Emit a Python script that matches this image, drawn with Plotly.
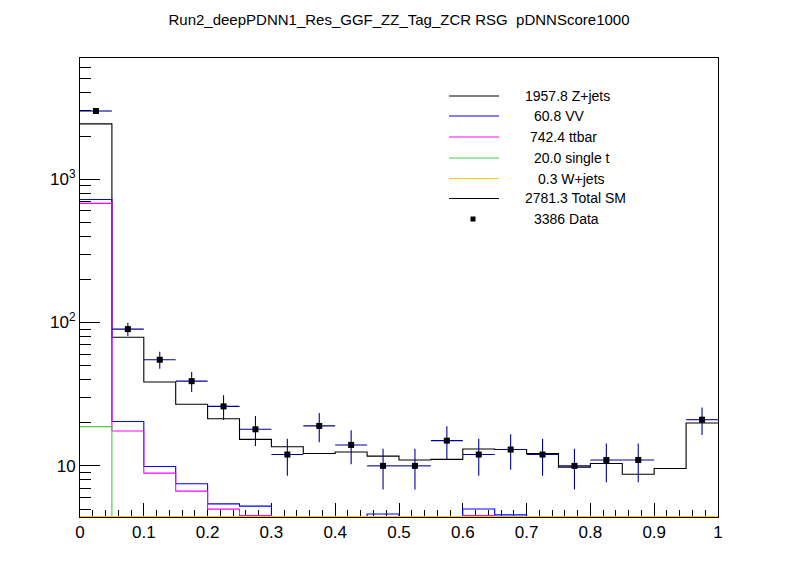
import numpy as np
import plotly.graph_objects as go

# bins of the pDNN score
bin_edges = [round(0.05 * i, 2) for i in range(21)]
bin_centres = [round(0.05 * i + 0.025, 3) for i in range(20)]

# data events per bin (bin 0.90-0.95 is empty)
data_counts = [2988, 90, 55, 39, 26, 18, 12, 19, 14, 10,
               10, 15, 12, 13, 12, 10, 11, 11, 0, 21]

# stacked MC levels as drawn (each line is the top of its layer)
zjets_stack = [2430, 79, 38.5, 26.9, 21.3, 15.3, 13.6, 12.2, 12.5, 11.7,
               11.0, 11.1, 13.1, 13.0, 12.2, 9.8, 10.4, 8.75, 9.6, 19.9]
vv_stack = [722, 20.4, 9.9, 7.5, 5.43, 5.24, 3.2, 2.0, 1.6, 4.62,
            2.5, 2.8, 5.0, 4.55, 2.1, 1.5, 1.3, 1.1, 1.0, 2.2]
ttbar_stack = [678, 17.5, 8.9, 6.67, 4.99, 4.5, 2.5, 1.5, 1.2, 2.4,
               1.8, 2.0, 4.5, 3.0, 1.5, 1.0, 0.9, 0.8, 0.7, 1.5]
singlet_stack = [18.8, 0.9, 0.5, 0.4, 0.3, 0.3, 0.2, 0.2, 0.2, 0.2,
                 0.2, 0.2, 0.2, 0.2, 0.2, 0.2, 0.2, 0.2, 0.2, 0.2]
wjets_stack = [0.1, 0.02, 0.02, 0.02, 0.01, 0.01, 0.01, 0.01, 0.01, 0.01,
               0.01, 0.01, 0.01, 0.01, 0.01, 0.01, 0.01, 0.01, 0.01, 0.01]

legend_labels = ["1957.8 Z+jets", "60.8 VV", "742.4 ttbar", "20.0 single t",
                 "0.3 W+jets", "2781.3 Total SM", "3386 Data"]

title_text = "Run2_deepPDNN1_Res_GGF_ZZ_Tag_ZCR RSG  pDNNScore1000"

Y_MIN, Y_MAX = 4.4, 7000
FLOOR = 4.43  # ROOT draws bins below the frame on the bottom edge
FONT = "Liberation Sans, Arial, Helvetica, sans-serif"

# plot area in pixels: x 80..718, y 58..517
L, R, T, B = 80, 718, 58, 517


def px(x):
    return (x - L) / (R - L)


def py(y):
    return (B - y) / (B - T)


def step_trace(levels, color, name):
    y = [max(v, FLOOR) for v in levels]
    return go.Scatter(x=bin_edges, y=y + [y[-1]], mode="lines", line_shape="hv",
                      line=dict(color=color, width=1.1), name=name, showlegend=False,
                      hoverinfo="skip")


fig = go.Figure()
fig.add_trace(step_trace(zjets_stack, "black", "Z+jets"))
fig.add_trace(step_trace(vv_stack, "#0000ff", "VV"))
fig.add_trace(step_trace(ttbar_stack, "#ff00ff", "ttbar"))
fig.add_trace(step_trace(singlet_stack, "#44cc44", "single t"))
fig.add_trace(step_trace(wjets_stack, "#ffcc00", "W+jets"))

data_y = [v if v > 0 else None for v in data_counts]
fig.add_trace(go.Scatter(
    x=bin_centres, y=data_y, mode="markers", name="Data", showlegend=False,
    marker=dict(symbol="square", size=6, color="black"),
    error_y=dict(type="data", array=list(np.sqrt(data_counts)), color="#000099",
                 thickness=1.1, width=0),
    error_x=dict(type="constant", value=0.025, color="#000099", thickness=1.1, width=0),
))

# legend drawn by hand, ROOT style
legend_colors = ["black", "#0000ff", "#ff00ff", "#44cc44", "#ffcc00", "black", None]
legend_rows = [96, 116, 137, 158, 178.5, 198.5, 219]
legend_text_x = [523, 531.5, 527.5, 531.5, 535.5, 523, 531.5]
shapes = []
annotations = []
for label, color, yrow, xt in zip(legend_labels, legend_colors, legend_rows, legend_text_x):
    if color is None:
        shapes.append(dict(type="rect", xref="paper", yref="paper",
                           x0=px(470.5), x1=px(475.5), y0=py(yrow + 2.5), y1=py(yrow - 2.5),
                           fillcolor="black", line=dict(width=0)))
    else:
        shapes.append(dict(type="line", xref="paper", yref="paper",
                           x0=px(449), x1=px(499), y0=py(yrow), y1=py(yrow),
                           line=dict(color=color, width=1.1)))
    annotations.append(dict(text=label, xref="paper", yref="paper", x=px(xt), y=py(yrow),
                            xanchor="left", yanchor="middle", showarrow=False,
                            font=dict(family=FONT, size=14, color="black")))

fig.update_layout(
    width=798, height=575,
    margin=dict(l=L, r=798 - R, t=T, b=575 - B),
    paper_bgcolor="white", plot_bgcolor="white",
    title=dict(text=title_text, x=0.5, xanchor="center", xref="paper",
               y=1 - 20 / 575, yanchor="middle", yref="container",
               font=dict(family=FONT, size=15, color="black")),
    showlegend=False,
    shapes=shapes,
    annotations=annotations,
    xaxis=dict(range=[0, 1], showgrid=False, zeroline=False, showline=True, mirror=True,
               linecolor="black", linewidth=1, layer="below traces",
               tickmode="array", tickvals=[0.1 * i for i in range(11)],
               ticktext=["0", "0.1", "0.2", "0.3", "0.4", "0.5", "0.6", "0.7", "0.8", "0.9", "1"],
               ticks="inside", ticklen=14, tickcolor="black", tickwidth=1,
               minor=dict(ticks="inside", ticklen=7, tickcolor="black", dtick=0.02, tick0=0),
               tickfont=dict(family=FONT, size=17, color="black")),
    yaxis=dict(type="log", range=[np.log10(Y_MIN), np.log10(Y_MAX)], showgrid=False,
               zeroline=False, showline=True, mirror=True, linecolor="black", linewidth=1,
               layer="below traces",
               tickmode="array", tickvals=[10, 100, 1000],
               ticktext=["10", "10<sup>2</sup>", "10<sup>3</sup>"],
               ticks="inside", ticklen=20, tickcolor="black", tickwidth=1,
               minor=dict(ticks="inside", ticklen=11, tickcolor="black", tickmode="array",
                          tickvals=[5, 6, 7, 8, 9, 20, 30, 40, 50, 60, 70, 80, 90,
                                    200, 300, 400, 500, 600, 700, 800, 900,
                                    2000, 3000, 4000, 5000, 6000]),
               tickfont=dict(family=FONT, size=17, color="black")),
)

# the page has no body margin, so the figure sits at the window's corner
fig.write_html("out.html", config={"displayModeBar": False},
               post_script="document.body.style.margin = '0';")
